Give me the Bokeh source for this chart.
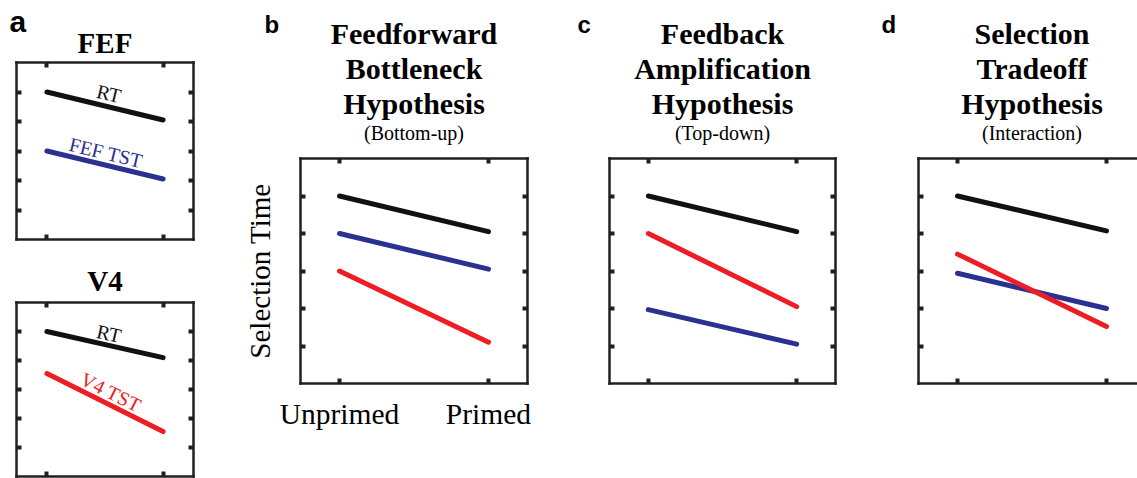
import math
from bokeh.plotting import figure
from bokeh.layouts import row, column
from bokeh.models import Range1d, LinearAxis, FixedTicker, Label
from bokeh.core.properties import value
from bokeh.embed import file_html
from bokeh.resources import INLINE

# ---------------- data ----------------
conditions = ["Unprimed", "Primed"]
xpos = [1, 2]
y_ticks = [1, 2, 3, 4, 5]

# panel a (observed)
fef_rt = [5.0, 4.05]
fef_tst = [3.0, 2.05]
v4_rt = [5.0, 4.1]
v4_tst = [3.55, 1.55]

# panel b: Feedforward Bottleneck
ff_rt = [5.0, 4.05]
ff_fef = [4.0, 3.05]
ff_v4 = [3.0, 1.1]

# panel c: Feedback Amplification
fb_rt = [5.0, 4.05]
fb_v4 = [4.0, 2.05]
fb_fef = [1.97, 1.05]

# panel d: Selection Tradeoff
st_rt = [5.0, 4.07]
st_v4 = [3.45, 1.52]
st_fef = [2.94, 2.0]

titles_b = ["Feedforward", "Bottleneck", "Hypothesis"]
titles_c = ["Feedback", "Amplification", "Hypothesis"]
titles_d = ["Selection", "Tradeoff", "Hypothesis"]
subs = ["(Bottom-up)", "(Top-down)", "(Interaction)"]
letters = ["a", "b", "c", "d"]

# ---------------- style ----------------
BLACK = "#111111"
BLUE = "#2b3190"
RED = "#ee1d23"
AXC = "#231f20"
SERIF = "Liberation Serif"
SANS = "Liberation Sans"
PAD = 0.262
SPAN = 1 + 2 * PAD
X0 = 1 - PAD
LW = 5
BASE_FIX = 0.32  # baseline correction (fraction of font size)


def style_axis(ax, ticks, labels=None, size=29.5, standoff=0):
    ax.ticker = FixedTicker(ticks=ticks)
    ax.axis_line_width = 2.5
    ax.axis_line_color = AXC
    ax.axis_line_cap = "square"
    ax.major_tick_in = 5
    ax.major_tick_out = 0
    ax.major_tick_line_width = 4
    ax.major_tick_line_color = AXC
    ax.minor_tick_line_color = None
    ax.major_label_standoff = standoff
    if labels:
        ax.major_label_overrides = labels
        ax.major_label_text_font = SERIF
        ax.major_label_text_font_size = f"{size}px"
        ax.major_label_text_color = "black"
    else:
        ax.major_label_text_font_size = "1px"
        ax.major_label_text_color = None


def make_panel(width, height, left, right, top, bottom, x_end=None,
               right_axis=True, xlabels=None, ylabel=None):
    x1 = (2 + PAD) if x_end is None else x_end
    p = figure(width=width, height=height, x_range=Range1d(X0, x1),
               y_range=Range1d(0, 6), output_backend="svg",
               toolbar_location=None, x_axis_location=None,
               y_axis_location=None, min_border_left=left,
               min_border_right=right, min_border_top=top,
               min_border_bottom=bottom, background_fill_color="white",
               border_fill_color="white", outline_line_color=None)
    p.grid.visible = False
    bx = LinearAxis()
    style_axis(bx, xpos, xlabels, standoff=14 if xlabels else 0)
    p.add_layout(bx, "below")
    tx = LinearAxis()
    style_axis(tx, xpos)
    p.add_layout(tx, "above")
    ly = LinearAxis()
    style_axis(ly, y_ticks)
    if ylabel:
        ly.axis_label = ylabel
        ly.axis_label_text_font = SERIF
        ly.axis_label_text_font_size = "29px"
        ly.axis_label_text_font_style = "normal"
        ly.axis_label_text_color = "black"
        ly.axis_label_standoff = 25
    p.add_layout(ly, "left")
    if right_axis:
        ry = LinearAxis()
        style_axis(ry, y_ticks)
        p.add_layout(ry, "right")
    return p


def title_fig(width, height, left=0, right=0):
    t = figure(width=width, height=height,
               x_range=Range1d(left, width - right),
               y_range=Range1d(height, 0), output_backend="svg",
               toolbar_location=None, x_axis_location=None,
               y_axis_location=None, min_border=0, min_border_left=left,
               min_border_right=right, background_fill_color="white",
               border_fill_color="white", outline_line_color=None)
    t.grid.visible = False
    return t


def ttext(t, xs, ys, texts, size, bold=False, font=SERIF, align="center"):
    t.text(x=xs, y=[y - BASE_FIX * size for y in ys], text=texts,
           text_font=value(font), text_font_size=value(f"{size}px"),
           text_font_style="bold" if bold else "normal",
           text_align=align, text_baseline="alphabetic", text_color="black")


def line_label(p, text, ys, fw, fh, xo, yo, color):
    ang = math.atan2((ys[1] - ys[0]) * fh / 6.0, (xpos[1] - xpos[0]) * fw / SPAN)
    p.add_layout(Label(x=sum(xpos) / 2, y=sum(ys) / 2, x_offset=xo,
                       y_offset=yo, text=text, text_font=SERIF,
                       text_font_size="20px", text_color=color, angle=ang,
                       angle_units="rad", text_align="center",
                       text_baseline="middle"))


# ---------------- geometry ----------------
A_LEFT, A_FW, A_RIGHT = 16, 177, 47
B_LEFT, B_FW, B_RIGHT = 60, 227, 33
C_LEFT, C_FW, C_RIGHT = 49, 226, 35
D_LEFT, D_FW, D_RIGHT = 48, 219, 0
A_W = A_LEFT + A_FW + A_RIGHT
B_W = B_LEFT + B_FW + B_RIGHT
C_W = C_LEFT + C_FW + C_RIGHT
D_W = D_LEFT + D_FW + D_RIGHT
PPX = B_FW / SPAN

# ---------------- panel a ----------------
ta1 = title_fig(A_W, 58)
ttext(ta1, [9], [31], [letters[0]], 30, bold=True, font=SANS, align="left")
ttext(ta1, [A_LEFT + A_FW / 2], [52], ["FEF"], 29, bold=True)

pa1 = make_panel(A_W, 192, A_LEFT, A_RIGHT, 4, 11)
pa1.line(xpos, fef_rt, line_width=LW, color=BLACK, line_cap="round")
pa1.line(xpos, fef_tst, line_width=LW, color=BLUE, line_cap="round")
line_label(pa1, "RT", fef_rt, A_FW, 177, 4, 12.5, BLACK)
line_label(pa1, "FEF TST", fef_tst, A_FW, 177, 1, 12.5, BLUE)

ta2 = title_fig(A_W, 47, A_LEFT, A_RIGHT)
ttext(ta2, [A_LEFT + A_FW / 2], [40], ["V4"], 29, bold=True)

pa2 = make_panel(A_W, 181, A_LEFT, A_RIGHT, 5, 2)
pa2.line(xpos, v4_rt, line_width=LW, color=BLACK, line_cap="round")
pa2.line(xpos, v4_tst, line_width=LW, color=RED, line_cap="round")
line_label(pa2, "RT", v4_rt, A_FW, 174, 4, 11, BLACK)
line_label(pa2, "V4 TST", v4_tst, A_FW, 174, 6, 10.5, RED)

# ---------------- titles for b, c, d (one strip) ----------------
tbcd = title_fig(B_W + C_W + D_W, 154)
mids = [B_LEFT + B_FW / 2,
        B_W + C_LEFT + C_FW / 2,
        B_W + C_W + D_LEFT + (1.5 - X0) * PPX]
letter_x = [24, B_W + 17, B_W + C_W + 11]
for lx, mid, lines, sub, let in zip(letter_x, mids,
                                    [titles_b, titles_c, titles_d], subs,
                                    letters[1:]):
    ttext(tbcd, [lx], [32], [let], 24, bold=True, font=SANS, align="left")
    ttext(tbcd, [mid] * 3, [43, 78, 113], lines, 30, bold=True)
    ttext(tbcd, [mid], [138.5], [sub], 20)

# ---------------- panel b ----------------
pb = make_panel(B_W, 324, B_LEFT, B_RIGHT, 4, 95,
                xlabels={1: conditions[0], 2: conditions[1]},
                ylabel="Selection Time")
pb.line(xpos, ff_rt, line_width=LW, color=BLACK, line_cap="round")
pb.line(xpos, ff_fef, line_width=LW, color=BLUE, line_cap="round")
pb.line(xpos, ff_v4, line_width=LW, color=RED, line_cap="round")

# ---------------- panel c ----------------
pc = make_panel(C_W, 324, C_LEFT, C_RIGHT, 4, 95)
pc.line(xpos, fb_rt, line_width=LW, color=BLACK, line_cap="round")
pc.line(xpos, fb_v4, line_width=LW, color=RED, line_cap="round")
pc.line(xpos, fb_fef, line_width=LW, color=BLUE, line_cap="round")

# ---------------- panel d ----------------
pd = make_panel(D_W, 324, D_LEFT, D_RIGHT, 4, 95, x_end=X0 + D_FW / PPX,
                right_axis=False)
pd.line(xpos, st_rt, line_width=LW, color=BLACK, line_cap="round")
pd.line(xpos, st_fef, line_width=LW, color=BLUE, line_cap="round")
pd.line(xpos, st_v4, line_width=LW, color=RED, line_cap="round")

layout = row(column(ta1, column(pa1, ta2, pa2)),
             column(tbcd, row(pb, pc, pd)))
open("out.html", "w").write(file_html(layout, INLINE))
